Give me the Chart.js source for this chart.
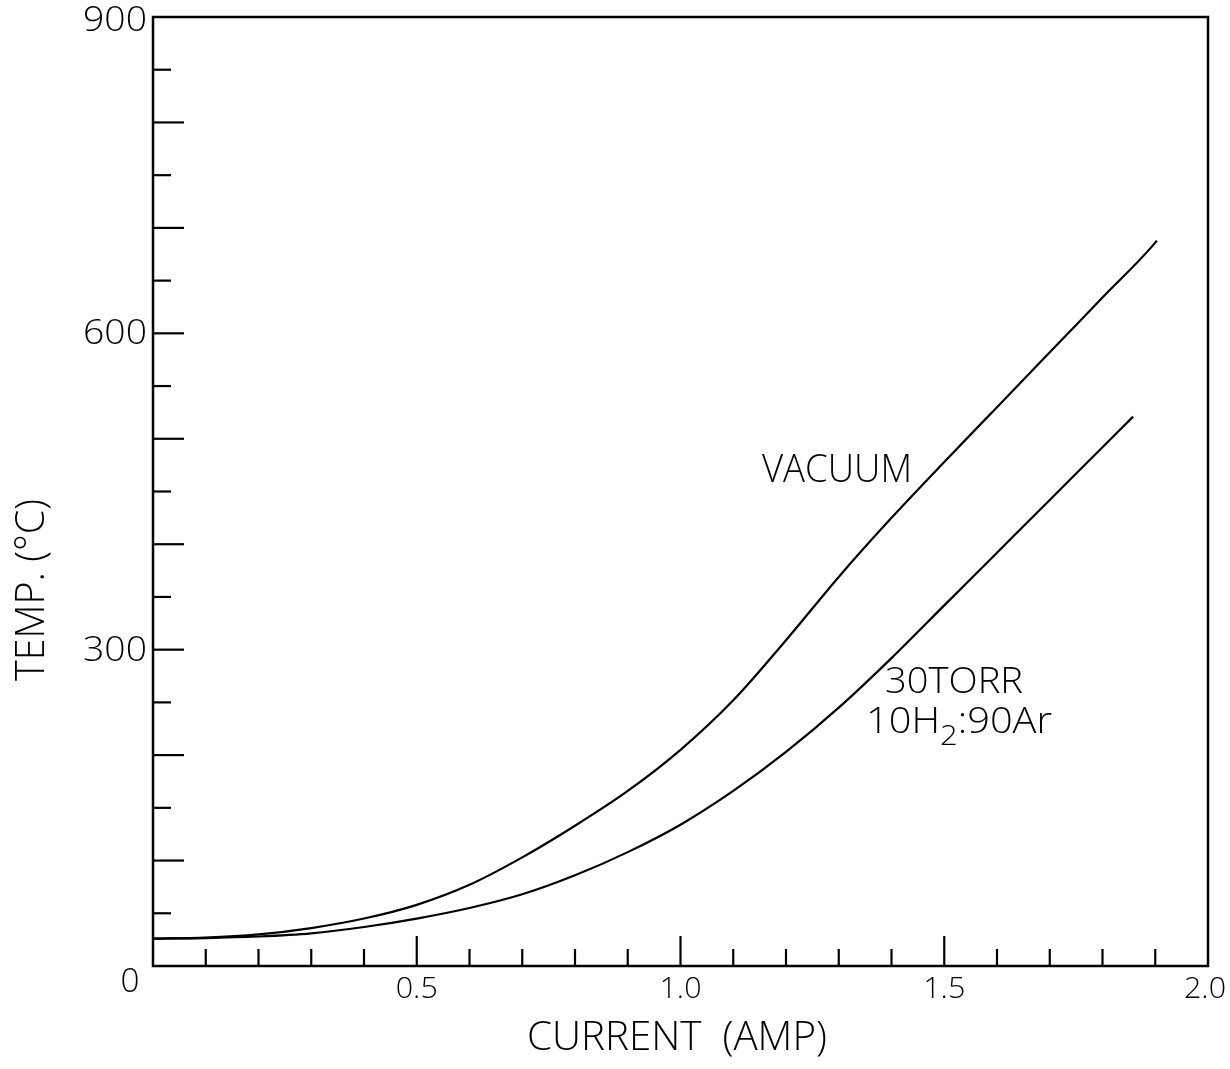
<!DOCTYPE html>
<html>
<head>
<meta charset="utf-8">
<script src="https://cdn.jsdelivr.net/npm/chart.js@4/dist/chart.umd.min.js"></script>
<style>
  html, body { margin: 0; padding: 0; background: #fff; }
  #c { display: block; }
</style>
</head>
<body>
<canvas id="c" width="1230" height="1069"></canvas>
<script>
// ---- data ----
const vacuumCurrent = [0, 0.1, 0.2, 0.3, 0.4, 0.5, 0.6, 0.7, 0.8, 0.9, 1.0, 1.1, 1.2, 1.3, 1.4, 1.5, 1.6, 1.7, 1.8, 1.9, 1.903];
const vacuumTemp    = [26, 27, 30, 36, 45, 58, 77, 103, 133, 166, 205, 252, 309, 369, 425, 478, 530, 582, 634, 686, 688];
const gasCurrent    = [0, 0.1, 0.2, 0.3, 0.4, 0.5, 0.6, 0.7, 0.8, 0.9, 1.0, 1.1, 1.2, 1.3, 1.4, 1.5, 1.6, 1.7, 1.8, 1.858];
const gasTemp       = [26, 26.5, 28, 31, 37, 45, 55, 68, 86, 108, 134, 166, 203, 245, 292, 342, 392, 442, 492, 521];

const xTickValues = [0.5, 1.0, 1.5, 2.0];
const xTickLabels = ['0.5', '1.0', '1.5', '2.0'];
const yTickValues = [300, 600, 900];
const yTickLabels = ['300', '600', '900'];
const xTitle = 'CURRENT  (AMP)';
const yTitle = 'TEMP. (°C)';
const vacuumLabel = 'VACUUM';
const gasLabel1 = '30TORR';

const FONT = '"Open Sans", Lato, "DejaVu Sans", sans-serif';

function toPts(xs, ys) { return xs.map((x, i) => ({ x: x, y: ys[i] })); }

// draw text fitted to a width, centred at (cx, cy)
function fitText(ctx, s, cx, cy, w, size, rot) {
  ctx.save();
  ctx.font = '300 ' + size + 'px ' + FONT;
  const nat = ctx.measureText(s).width;
  ctx.translate(cx, cy);
  if (rot) ctx.rotate(rot);
  ctx.scale(w / nat, 1);
  ctx.textAlign = 'center';
  ctx.textBaseline = 'middle';
  ctx.fillStyle = '#000';
  ctx.fillText(s, 0, 0);
  ctx.restore();
}

const decor = {
  id: 'decor',
  afterDraw(chart) {
    const ctx = chart.ctx;
    const xs = chart.scales.x, ys = chart.scales.y;
    const a = chart.chartArea;
    ctx.save();
    ctx.strokeStyle = '#000';
    ctx.lineCap = 'butt';
    // frame
    ctx.lineWidth = 2.5;
    ctx.strokeRect(a.left, a.top, a.right - a.left, a.bottom - a.top);
    // y ticks (inward)
    ctx.lineWidth = 2.2;
    for (let v = 50; v < 900; v += 50) {
      const y = ys.getPixelForValue(v);
      const len = (v % 100 === 0) ? 31 : 18;
      ctx.beginPath(); ctx.moveTo(a.left, y); ctx.lineTo(a.left + len, y); ctx.stroke();
    }
    // x ticks (inward)
    for (let i = 1; i < 20; i++) {
      const x = xs.getPixelForValue(i / 10);
      const len = (i % 5 === 0) ? 30 : 17;
      ctx.beginPath(); ctx.moveTo(x, a.bottom); ctx.lineTo(x, a.bottom - len); ctx.stroke();
    }
    ctx.restore();

    // tick labels
    yTickValues.forEach((v, i) => {
      const y = ys.getPixelForValue(v);
      fitText(ctx, yTickLabels[i], 115, y + (v === 900 ? 4 : 1), 64, 35, 0);
    });
    xTickValues.forEach((v, i) => {
      const x = xs.getPixelForValue(v);
      fitText(ctx, xTickLabels[i], x - (v === 2.0 ? 3 : 0), 989, 42, 30, 0);
    });
    fitText(ctx, '0', 130, 983, 19, 33, 0);

    // axis titles
    fitText(ctx, xTitle, 677, 1039, 300, 40, 0);
    fitText(ctx, yTitle, 33, 590, 182, 40, -Math.PI / 2);

    // annotations
    fitText(ctx, vacuumLabel, 837, 471, 150, 38, 0);
    fitText(ctx, gasLabel1, 954, 682, 138, 37, 0);

    // 10H2:90Ar with subscript
    ctx.save();
    const big = '300 36px ' + FONT, small = '300 28px ' + FONT;
    ctx.font = big; const w1 = ctx.measureText('10H').width;
    ctx.font = small; const w2 = ctx.measureText('2').width;
    ctx.font = big; const w3 = ctx.measureText(':90Ar').width;
    const total = w1 + w2 + w3;
    const target = 186, left = 866, cy = 723;
    ctx.translate(left, cy);
    ctx.scale(target / total, 1);
    ctx.fillStyle = '#000';
    ctx.textBaseline = 'middle';
    ctx.textAlign = 'left';
    ctx.font = big; ctx.fillText('10H', 0, 0);
    ctx.font = small; ctx.fillText('2', w1, 14);
    ctx.font = big; ctx.fillText(':90Ar', w1 + w2, 0);
    ctx.restore();
  }
};

new Chart(document.getElementById('c'), {
  type: 'scatter',
  data: {
    datasets: [
      { label: 'VACUUM', data: toPts(vacuumCurrent, vacuumTemp), showLine: true,
        borderColor: '#000', borderWidth: 2.2, pointRadius: 0, cubicInterpolationMode: 'monotone', fill: false },
      { label: '30 TORR 10H2:90Ar', data: toPts(gasCurrent, gasTemp), showLine: true,
        borderColor: '#000', borderWidth: 2.2, pointRadius: 0, cubicInterpolationMode: 'monotone', fill: false }
    ]
  },
  options: {
    responsive: false,
    animation: false,
    devicePixelRatio: 1,
    layout: { padding: { left: 153, top: 17, right: 22, bottom: 103 } },
    plugins: { legend: { display: false }, tooltip: { enabled: false } },
    scales: {
      x: { type: 'linear', min: 0, max: 2, display: false },
      y: { type: 'linear', min: 0, max: 900, display: false }
    }
  },
  plugins: [decor]
});
</script>
</body>
</html>
